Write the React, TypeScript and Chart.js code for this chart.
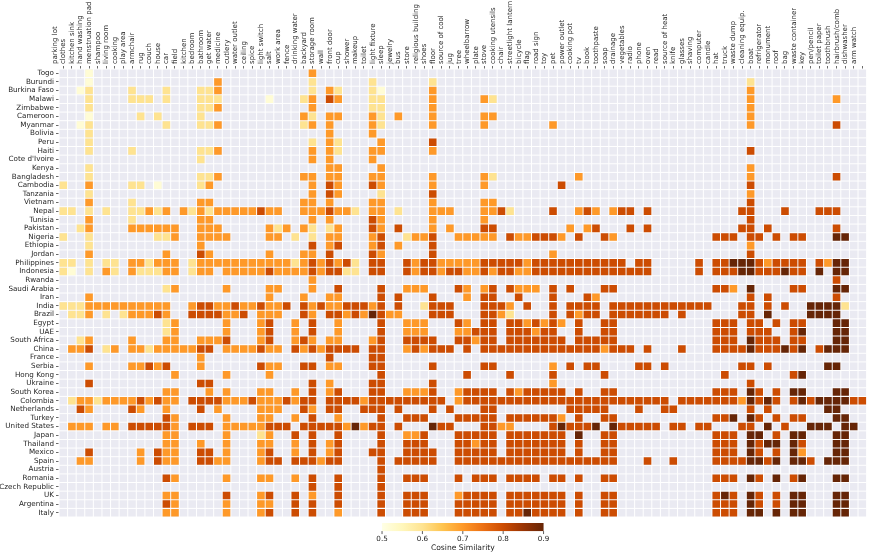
import React, { useEffect, useRef } from "react";
import { Chart, registerables } from "chart.js";

Chart.register(...registerables);

const OBJECTS = [
  "parking lot", "clothes", "kitchen sink", "hand washing", "menstruation pad", "shampoo", "living room", "cooking", "play area", "armchair",
  "rug", "couch", "house", "car", "field", "kitchen", "bedroom", "bathroom", "get water", "medicine",
  "cutlery", "water outlet", "ceiling", "spice", "light switch", "salt", "work area", "fence", "drinking water", "backyard",
  "storage room", "wall", "front door", "cup", "shower", "makeup", "toilet", "light fixture", "sleep", "jewelry",
  "bus", "store", "religious building", "shoes", "floor", "source of cool", "jug", "tree", "wheelbarrow", "plate",
  "stove", "cooking utensils", "chair", "streetlight lantern", "bicycle", "flag", "road sign", "toy", "pet", "power outlet",
  "cooking pot", "tv", "book", "toothpaste", "soap", "drainage", "vegetables", "radio", "phone", "oven",
  "read", "source of heat", "knife", "glasses", "shaving", "computer", "candle", "hat", "truck", "waste dump",
  "cleaning equip.", "boat", "refrigerator", "monument", "roof", "bag", "waste container", "key", "pen/pencil", "toilet paper",
  "toothbrush", "hairbrush/comb", "dishwasher", "arm watch",
];

const COUNTRIES = [
  "Togo", "Burundi", "Burkina Faso", "Malawi", "Zimbabwe", "Cameroon", "Myanmar", "Bolivia", "Peru", "Haiti",
  "Cote d'Ivoire", "Kenya", "Bangladesh", "Cambodia", "Tanzania", "Vietnam", "Nepal", "Tunisia", "Pakistan", "Nigeria",
  "Ethiopia", "Jordan", "Philippines", "Indonesia", "Rwanda", "Saudi Arabia", "Iran", "India", "Brazil", "Egypt",
  "UAE", "South Africa", "China", "France", "Serbia", "Hong Kong", "Ukraine", "South Korea", "Colombia", "Netherlands",
  "Turkey", "United States", "Japan", "Thailand", "Mexico", "Spain", "Austria", "Romania", "Czech Republic", "UK",
  "Argentina", "Italy",
];

// approximate cosine similarity for each code ('.' = no value)
const LEVEL_VALUE: Record<string, number> = { "1": 0.52, "2": 0.6, "3": 0.7, "4": 0.8, "5": 0.9 };

// one string per country, one code per object (groups of ten objects)
const ROW_CODES = [
  "...1...... .......... .........3 .......... .......... .......... .......... .......... .......... ....",
  "...1...... ........3. .........2 ......2... ...2...... .......... .......... .......... 2......... ....",
  "..12....2. ..2...223. .........2 .32...21.. ...3...... .......... .......... .......... 3......... ....",
  "...2....22 2.2...222. ....1...23 .43...22.. ...3.....3 2......... .......... .......... 3......... 3...",
  "...2...... ......223. .........3 ......22.. ...3...... .......... .......... .......... 3......... ....",
  "...1.....2 .2....2... ........32 .33...32.3 ...3.....3 3......... .......... .......... 3......... ....",
  "..12...... ..2...223. ........23 .3....32.. ...3.....3 .......3.. .......... .......... 3......... 4...",
  "...2...... .......... .......... .3....3... .......... .......... .......... .......... .......... ....",
  "...2...... .......... .........2 .32....3.. ...4...... .......... .......... .......... .......... ....",
  "...2....2. ......223. .........3 .32...33.. ...3...... .......... .......... .......... 4......... ....",
  ".......... ......2... .........3 .3....3... .......... .......... .......... .......... .......... ....",
  "...2...... .......... .......... .33....3.. .......... .......... .......... .......... 3......... ....",
  "...2...... ......223. ........33 .33...33.. ...3.....3 2......... 3......... .......... 3......... 4...",
  "2..3....22 .1....23.. .........3 .43...43.. ...3.....3 ........4. .......... .......... 4......... ....",
  "...2...... .......... .........3 .43....2.. ...4...... .......... .......... .......... 3......... ....",
  "...3....2. ......33.. ........33 .3....33.. ...3.....3 3......... .......... .......... 4......... ....",
  "22.2.2..22 323.323233 333433..33 34332.33.2 ...333...3 342....4.. 343.344.4. .........4 4...4...44 4...",
  "...3....2. ......33.. .........3 .3....43.. ...3.....3 .......... .......... .......... 4......... ....",
  "..23....33 3333..333. ....323.32 .23...43.4 ...3.3...4 4........3 .34...4.4. .........4 4.4....... 4...",
  "2..2...... .223..3333 ....33.2.2 .33...34.. 2334..3333 3.4334443. 4..43..... ......444. 44.4.44... 55..",
  "...2...... ......3... .........4 .34...34.3 ...4...... .......... .......... .......... 3......... ....",
  "...3...... ..3...43.. ....3...33 .4....43.. ...4...... .......3.. .......... .......... 4......... ....",
  "22.2.22.33 2333.23333 3333333234 34342.44.. 4344333334 4444344444 444444.44. ....4.4455 5434444.43 55..",
  "21.2.32.32 2233.233.3 3333433334 34422.44.. 4344344334 3443344444 444444444. ....4.4445 5444544.5. 55..",
  ".......... .......... .........3 .......... .......... .......... .......... .......... .......... 4...",
  ".......... ..23.....3 ....33...3 ..4....4.. 333...43.3 4.4333.4.4 ...44..... ......443. 5....44... 55..",
  "...3...... .......... ....3...3. .33....4.4 ...4...3.4 4..4...4.. .43....... .......... 4.4....... 4...",
  "2223333333 333..34433 4334334.43 43344434.4 ..2444...4 443.4..4.4 444.444444 444444...4 4.4.4..555 52..",
  ".223.2.233 343..44443 34.333..43 .443435433 ...444...4 432....4.4 344.444444 4.4......4 4.5....555 5...",
  ".......... ..23.....3 ...34..3.4 ..3....4.. 333...43.4 4.4434343. 4..44..... ......444. 44.4.44... 55..",
  ".......... ..23.....3 ...34..3.4 ..3....4.. 333...3344 4.444344.. 4..44..... ......444. 444..45... 55..",
  "..23....3. ..33..3334 ...34..343 .33...34.. 4444..4434 4.4444444. 44444..... ......444. 5444.44... 55..",
  ".334.23.33 23333344.3 333433.434 34444.44.. 343444.4.4 4444444444 4443444.4. ..4...4444 5444545.45 55..",
  ".......... ......3... .......... .4....44.. .......... .......... .......... .......... .......... ....",
  "...3....33 434...3... ...433..44 .33...44.. ...4.....4 4......3.4 .44....44. 4........4 4.4......5 5...",
  ".......... ...3.....3 ....3..... .......4.. .......4.. ..4....4.. ...4...... .......4.. .....45... ....",
  "...4...... ......44.. .........4 .3....44.. ...4...... .......3.. .......... .......... 4......... ....",
  ".......... ..33...3.3 ...33..3.4 .34...44.. 3334..3444 4.4344444. 4..44..... ......444. 54.4.55... 55..",
  ".233233334 3433.44443 3343334344 .444434444 44444.3444 4444444444 4444444444 4.44444443 5454.45455 5544",
  "..43....43 ..3...4.3. ...333..43 .44..444.4 ...4.4...4 4........4 4444...4.. 44........ 4.4......5 5...",
  ".......... ..43.....3 ...33..3.4 ..3....4.. 444...4444 4.4444443. 4..44..... ......445. 54.4.44... 55..",
  ".333.33.44 4443.444.3 3333444.44 44435344.4 ...544...4 433....454 445.544444 .44.44...4 4.5.4..555 .55.",
  ".......... ..33.....3 ...23..4.4 ..4....4.. 334...4444 4.4444444. 5..44..... ......444. 55.4.55... 55..",
  ".......... ..33..3..3 ...33..3.4 .34....4.. 444...4434 4.4444444. 4..44..... ......444. 5455.54... 55..",
  "...4.....3 .433..44.3 ...34..3.4 .34...44.. 4444..4444 4.4444444. 4..44..... ......444. 54.4.53... 55..",
  "..33.....3 .433..4433 ...344.444 344....4.4 4444..4444 4444444444 44444...4. .4....4444 5545.554.5 55..",
  ".......... .......... .......... .......4.. .......... .......... .......... .......... .......... ....",
  ".......... ..43.....3 ...33..3.4 ..4....4.. 444...4.44 4.4444.44. 4..44..... ......444. 54.5.45... 55..",
  ".......... .......... .........4 ..4....4.. .......... .......... .......... .......... .......... ....",
  ".......... ..33.....4 ...34..4.3 ..4....4.. 444...3444 4.4444444. 4..44..... ......454. 54.4.55... 55..",
  ".......... ..43.....3 ...33..4.4 ..4....4.. 444...4444 4.4444444. 4..44..... ......444. 54.4.55... 55..",
  ".......... ..33.....3 ...34..4.4 ..3....4.. 444...4444 4.4454444. 4..44..... ......444. 55.5.55... 55..",
];

const COLORBAR_TICKS = [0.5, 0.6, 0.7, 0.8, 0.9];
const COLORBAR_LABEL = "Cosine Similarity";
const VMIN = 0.5;
const VMAX = 0.9;
const YLORBR = ["#ffffe5", "#fff7bc", "#fee391", "#fec44f", "#fe9929", "#ec7014", "#cc4c02", "#993404", "#662506"];

const FONT = "'DejaVu Sans', sans-serif";

function hexToRgb(h: string): number[] {
  const n = parseInt(h.slice(1), 16);
  return [(n >> 16) & 255, (n >> 8) & 255, n & 255];
}

function colorFor(v: number): string {
  let t = (v - VMIN) / (VMAX - VMIN);
  t = Math.max(0, Math.min(1, t));
  const pos = t * (YLORBR.length - 1);
  const i = Math.min(Math.floor(pos), YLORBR.length - 2);
  const f = pos - i;
  const a = hexToRgb(YLORBR[i]);
  const b = hexToRgb(YLORBR[i + 1]);
  const c = a.map((av, k) => Math.round(av + (b[k] - av) * f));
  return `rgb(${c[0]},${c[1]},${c[2]})`;
}

export default function App() {
  const ref = useRef<HTMLCanvasElement>(null);

  useEffect(() => {
    if (!ref.current) return;
    const points: { x: string; y: string; v: number }[] = [];
    ROW_CODES.forEach((row, r) => {
      const codes = row.replace(/ /g, "");
      for (let c = 0; c < OBJECTS.length; c++) {
        const ch = codes[c];
        if (ch && LEVEL_VALUE[ch] !== undefined) {
          points.push({ x: OBJECTS[c], y: COUNTRIES[r], v: LEVEL_VALUE[ch] });
        }
      }
    });

    const cellRadius = (ctx: any) => {
      const a = ctx.chart.chartArea;
      if (!a) return 5.4;
      const w = (a.right - a.left) / OBJECTS.length;
      return (w - 1) / Math.SQRT2;
    };

    const bgPlugin = {
      id: "heatBg",
      beforeDatasetsDraw(chart: any) {
        const { ctx, chartArea: a, scales } = chart;
        const x = scales.x;
        const y = scales.y;
        ctx.save();
        ctx.fillStyle = "#eaeaf2";
        ctx.fillRect(a.left, a.top, a.right - a.left, a.bottom - a.top);
        ctx.strokeStyle = "#ffffff";
        ctx.lineWidth = 1;
        ctx.beginPath();
        for (let i = 0; i <= OBJECTS.length; i++) {
          const px = x.getPixelForValue(i - 0.5);
          ctx.moveTo(px, a.top);
          ctx.lineTo(px, a.bottom);
        }
        for (let j = 0; j <= COUNTRIES.length; j++) {
          const py = y.getPixelForValue(j - 0.5);
          ctx.moveTo(a.left, py);
          ctx.lineTo(a.right, py);
        }
        ctx.stroke();
        ctx.restore();
      },
    };

    const colorbarPlugin = {
      id: "colorbar",
      afterDraw(chart: any) {
        const { ctx, chartArea: a } = chart;
        const cx = (a.left + a.right) / 2;
        const w = (a.right - a.left) * 0.2;
        const h = w / 20;
        const x0 = cx - w / 2;
        const y0 = a.bottom + 6;
        ctx.save();
        const g = ctx.createLinearGradient(x0, 0, x0 + w, 0);
        YLORBR.forEach((c, i) => g.addColorStop(i / (YLORBR.length - 1), c));
        ctx.fillStyle = g;
        ctx.fillRect(x0, y0, w, h);
        ctx.strokeStyle = "#333";
        ctx.lineWidth = 0.8;
        ctx.fillStyle = "#222";
        ctx.font = `7.2px ${FONT}`;
        ctx.textAlign = "center";
        ctx.textBaseline = "top";
        COLORBAR_TICKS.forEach((v) => {
          const px = x0 + ((v - VMIN) / (VMAX - VMIN)) * w;
          ctx.beginPath();
          ctx.moveTo(px, y0 + h);
          ctx.lineTo(px, y0 + h + 3);
          ctx.stroke();
          ctx.fillText(v.toFixed(1), px, y0 + h + 4);
        });
        ctx.font = `7.6px ${FONT}`;
        ctx.fillText(COLORBAR_LABEL, cx, y0 + h + 13);
        ctx.restore();
      },
    };

    const chart = new Chart(ref.current, {
      type: "scatter",
      data: {
        datasets: [
          {
            data: points as any,
            pointStyle: "rect",
            pointRadius: cellRadius,
            pointHoverRadius: cellRadius,
            pointBorderWidth: 0,
            borderWidth: 0,
            backgroundColor: (ctx: any) => (ctx.raw ? colorFor(ctx.raw.v) : "#fff"),
          } as any,
        ],
      },
      options: {
        responsive: false,
        animation: false,
        devicePixelRatio: 1,
        events: [],
        layout: { padding: { left: 0, top: 0, right: 3, bottom: 37 } },
        plugins: { legend: { display: false }, tooltip: { enabled: false } },
        scales: {
          x: {
            type: "category",
            labels: OBJECTS,
            position: "top",
            offset: true,
            grid: { display: true, drawOnChartArea: false, drawTicks: true, tickLength: 3, tickColor: "#444", tickWidth: 0.8 },
            border: { display: false },
            ticks: {
              autoSkip: false,
              minRotation: 90,
              maxRotation: 90,
              padding: 2,
              color: "#1f1f1f",
              font: { family: FONT, size: 7.0 },
            },
            afterFit: (s: any) => {
              s.height = 69;
            },
          },
          y: {
            type: "category",
            labels: COUNTRIES,
            offset: true,
            grid: { display: true, drawOnChartArea: false, drawTicks: true, tickLength: 3, tickColor: "#444", tickWidth: 0.8 },
            border: { display: false },
            ticks: {
              autoSkip: false,
              padding: 2,
              color: "#1f1f1f",
              font: { family: FONT, size: 7.2 },
            },
            afterFit: (s: any) => {
              s.width = 59;
            },
          },
        } as any,
      },
      plugins: [bgPlugin, colorbarPlugin],
    });
    return () => chart.destroy();
  }, []);

  return (
    <div style={{ position: "fixed", left: 0, top: 0, width: 872, height: 554, background: "#fff" }}>
      <canvas ref={ref} width={872} height={554} style={{ display: "block", width: 872, height: 554 }} />
    </div>
  );
}
